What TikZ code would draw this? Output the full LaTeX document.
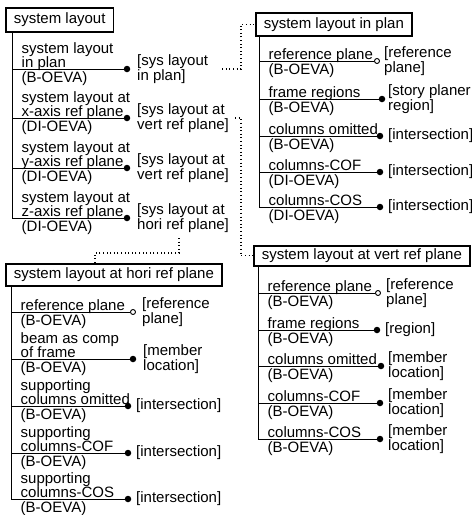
\documentclass[tikz,border=0pt]{standalone}
\usepackage{fontspec}
\setmainfont{Liberation Sans}
\begin{document}
\begin{tikzpicture}[x=1pt,y=-1pt,
  every node/.style={font=\fontsize{15}{14.3}\selectfont},
  box/.style={draw,line width=1.6pt,inner xsep=8pt,inner ysep=0pt,anchor=north west},
  attr/.style={anchor=south west,inner sep=0pt,text depth=0pt,align=left},
  oeva/.style={anchor=base west,inner sep=0pt},
  lab/.style={anchor=west,inner sep=0pt,align=left},
  fdot/.style={circle,fill=black,inner sep=0pt,minimum size=6.5pt},
  odot/.style={circle,draw=black,fill=white,line width=0.9pt,inner sep=0pt,minimum size=5pt},
  link/.style={line width=1pt},
  dotline/.style={line width=1.1pt,dash pattern=on 1pt off 2.6pt}]
\path[use as bounding box] (0,0) rectangle (472,515);

% one attribute row: name, spine x, line y, upper text, lower text, dot x, dot style, label, label x
\newcommand\attrrow[9]{%
  \coordinate (#1-s) at (#2,#3);
  \node[attr] (#1-n) at (#2+9.5,#3-1) {#4};
  \node[oeva] (#1-t) at (#2+9.5,#3+13) {#5};
  \node[#7] (#1-d) at (#6,#3) {};
  \node[lab] (#1-l) at (#9,#3) {#8};
  \draw[link] (#1-s) -- (#1-d);
}

% ---- system layout
\node[box,minimum height=24pt] (B0) at (5,7) {system layout};
\attrrow{m1}{12}{69}{system layout\\in plan}{(B-OEVA)}{127}{fdot}{[sys layout\\in plan]}{137}
\attrrow{m2}{12}{118}{system layout at\\x-axis ref plane}{(DI-OEVA)}{127}{fdot}{[sys layout at\\vert ref plane]}{137}
\attrrow{m3}{12}{168}{system layout at\\y-axis ref plane}{(DI-OEVA)}{127}{fdot}{[sys layout at\\vert ref plane]}{137}
\attrrow{m4}{12}{218}{system layout at\\z-axis ref plane}{(DI-OEVA)}{127}{fdot}{[sys layout at\\hori ref plane]}{137}
\draw[link] (B0.south -| m4-s) -- (m4-s);

% ---- system layout in plan
\node[box,minimum height=23pt] (B1) at (255,12) {system layout in plan};
\attrrow{p1}{259}{61}{reference plane}{(B-OEVA)}{377}{odot}{[reference\\plane]}{384}
\attrrow{p2}{259}{99}{frame regions}{(B-OEVA)}{382}{fdot}{[story planer\\region]}{388}
\attrrow{p3}{259}{136}{columns omitted}{(B-OEVA)}{380}{fdot}{[intersection]}{388}
\attrrow{p4}{259}{172}{columns-COF}{(DI-OEVA)}{380}{fdot}{[intersection]}{388}
\attrrow{p5}{259}{207}{columns-COS}{(DI-OEVA)}{380}{fdot}{[intersection]}{388}
\draw[link] (B1.south -| p5-s) -- (p5-s);

% ---- system layout at vert ref plane
\node[box,minimum height=20pt] (B2) at (253,245) {system layout at vert ref plane};
\attrrow{v1}{258}{293}{reference plane}{(B-OEVA)}{378}{odot}{[reference\\plane]}{386}
\attrrow{v2}{258}{330}{frame regions}{(B-OEVA)}{377}{fdot}{[region]}{385}
\attrrow{v3}{258}{366}{columns omitted}{(B-OEVA)}{381}{fdot}{[member\\location]}{388}
\attrrow{v4}{258}{403}{columns-COF}{(B-OEVA)}{380}{fdot}{[member\\location]}{388}
\attrrow{v5}{258}{439}{columns-COS}{(B-OEVA)}{380}{fdot}{[member\\location]}{388}
\draw[link] (B2.south -| v5-s) -- (v5-s);

% ---- system layout at hori ref plane
\node[box,minimum height=22pt] (B3) at (5,263) {system layout at hori ref plane};
\attrrow{h1}{11}{312}{reference plane}{(B-OEVA)}{133}{odot}{[reference\\plane]}{142}
\attrrow{h2}{11}{359}{beam as comp\\of frame}{(B-OEVA)}{133}{fdot}{[member\\location]}{143}
\attrrow{h3}{11}{406}{supporting\\columns omitted}{(B-OEVA)}{128}{fdot}{[intersection]}{136}
\attrrow{h4}{11}{453}{supporting\\columns-COF}{(B-OEVA)}{128}{fdot}{[intersection]}{136}
\attrrow{h5}{11}{499}{supporting\\columns-COS}{(B-OEVA)}{128}{fdot}{[intersection]}{136}
\draw[link] (B3.south -| h5-s) -- (h5-s);

% ---- dotted references from value classes to their definitions
\coordinate (k1) at (241,69);
\draw[dotline,shorten <=14pt] (m1-l.east) -- (k1) |- (B1.west);
\coordinate (k2) at (241,118);
\draw[dotline,shorten <=6pt] (m2-l.east) -- (k2) |- (B2.west);
\coordinate (k3a) at (179,238);
\coordinate (k3b) at (95,253);
\draw[dotline] (k3a) |- (k3b) -- (k3b |- B3.north);
\end{tikzpicture}
\end{document}
